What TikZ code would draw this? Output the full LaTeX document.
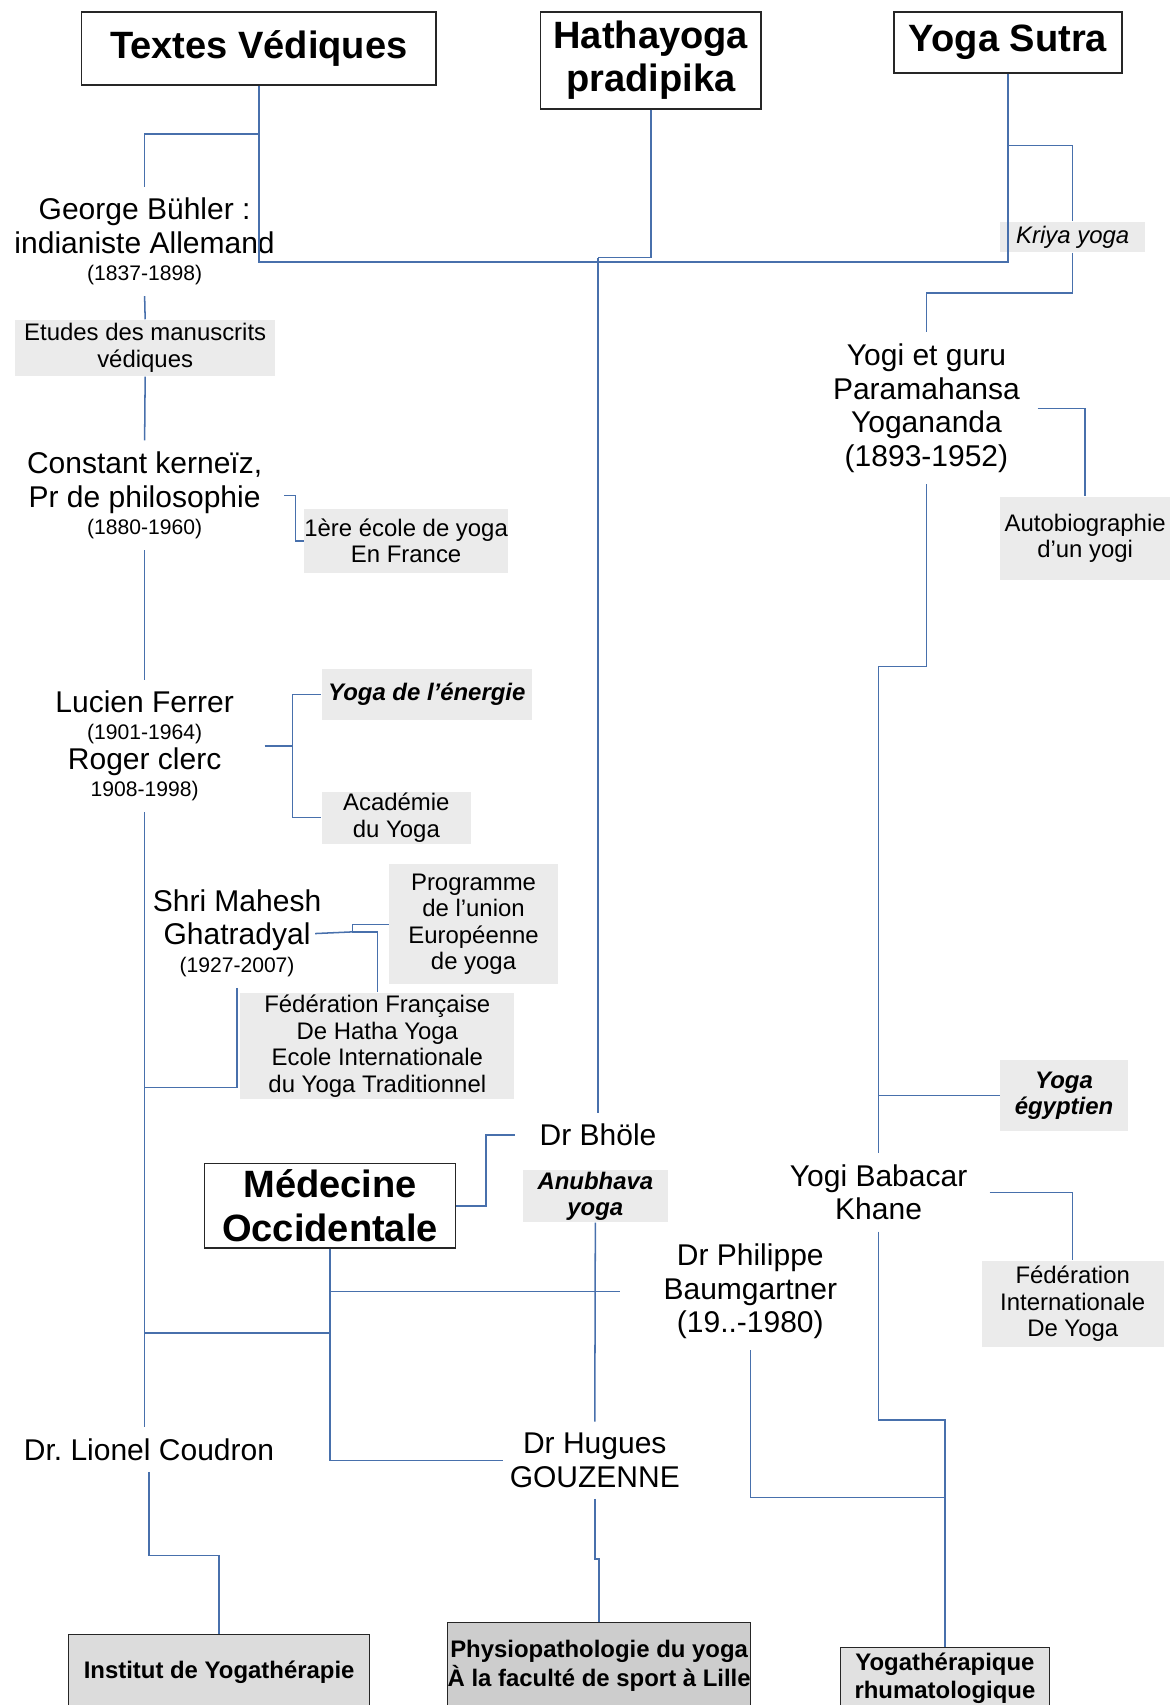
\documentclass[tikz,border=0pt]{standalone}
\usepackage{fontspec}
\setmainfont{Liberation Sans}
\usepackage{tikz}
\definecolor{lnkb}{RGB}{72,112,172}
\definecolor{resa}{RGB}{220,220,220}
\definecolor{resb}{RGB}{205,205,205}
\definecolor{resc}{RGB}{225,225,225}
\newcommand{\cnote}{black!8}
\newcommand{\ftitle}{\fontsize{17.5}{20}\selectfont\bfseries}
\newcommand{\fname}{\fontsize{13.8}{15.5}\selectfont}
\newcommand{\fnote}{\fontsize{11}{12.2}\selectfont}
\newcommand{\fres}{\fontsize{11}{13}\selectfont\bfseries}
\newcommand{\yrs}{\fontsize{9.7}{11}\selectfont}
\tikzset{
	every node/.style = { align = center },
	src/.style = { draw=black!85, line width=0.8pt, fill=white, font=\ftitle, inner sep=0pt },
	who/.style = { font=\fname, inner xsep=3pt, inner ysep=5pt },
	nte/.style = { fill=\cnote, font=\fnote, inner sep=0pt },
	res/.style = { draw=black!85, line width=0.7pt, font=\fres, inner sep=0pt },
	lnk/.style = { draw=lnkb, line width=0.7pt },
}

\begin{document}
\begin{tikzpicture}[x=0.5pt,y=-0.5pt]
\clip (0,0) rectangle (1080,1568);

\node (tv) [src,minimum width=163pt,minimum height=33.5pt] at (238,44.5)  {Textes Védiques};
\node (hp) [src,minimum width=101.5pt,minimum height=44.5pt] at (598.5,55.5) {Hathayoga\\pradipika};
\node (ys) [src,minimum width=105pt,minimum height=28pt]   at (927,39)    {Yoga Sutra};
\node (mo) [src,minimum width=115.5pt,minimum height=39pt] at (303.5,1109) {Médecine\\Occidentale};

\node (bu) [who] at (133,222)    {George Bühler :\\indianiste Allemand\\[-3pt]{\yrs (1837-1898)}};
\node (ck) [who] at (133,455.5)  {Constant kerneïz,\\Pr de philosophie\\[-3pt]{\yrs (1880-1960)}};
\node (lf) [who] at (133,686)    {Lucien Ferrer\\[-3pt]{\yrs (1901-1964)}\\[-2pt]Roger clerc\\[-3pt]{\yrs 1908-1998)}};
\node (sm) [who] at (218,858)    {Shri Mahesh\\Ghatradyal\\[-3pt]{\yrs (1927-2007)}};
\node (lc) [who] at (137,1333)   {Dr.\ Lionel Coudron};
\node (yg) [who] at (852,375.5)  {Yogi et guru\\Paramahansa\\Yogananda\\(1893-1952)};
\node (bk) [who] at (808,1096.5) {Yogi Babacar\\Khane};
\node (bh) [who] at (550,1044)   {Dr Bhöle};
\node (pb) [who] at (690,1187.5) {Dr Philippe\\Baumgartner\\(19..-1980)};
\node (hg) [who] at (547,1343)   {Dr Hugues\\GOUZENNE};

\node (em) [nte,minimum width=119.5pt,minimum height=26pt] at (133.5,320)  {Etudes des manuscrits\\védiques};
\node (ef) [nte,minimum width=89.5pt,minimum height=29.5pt] at (373.5,497.5) {1ère école de yoga\\En France};
\node (ye) [nte,minimum width=96.5pt,minimum height=23.5pt] at (392.5,638.5) {\bfseries\itshape Yoga de l'énergie};
\node (ac) [nte,minimum width=68.5pt,minimum height=24pt]   at (364.5,752)  {Académie\\du Yoga};
\node (pu) [nte,minimum width=77.5pt,minimum height=55pt]   at (435.5,850)  {Programme\\de l'union\\Européenne\\de yoga};
\node (ff) [nte,minimum width=126pt,minimum height=49pt]    at (347,962)    {Fédération Française\\De Hatha Yoga\\Ecole Internationale\\du Yoga Traditionnel};
\node (kr) [nte,minimum width=66.5pt,minimum height=14pt]   at (986.5,218)  {\itshape Kriya yoga};
\node (ab) [nte,minimum width=78pt,minimum height=38pt]     at (998,495)    {Autobiographie\\d'un yogi};
\node (eg) [nte,minimum width=58.5pt,minimum height=32.5pt] at (978.5,1007.5) {\bfseries\itshape Yoga\\\bfseries\itshape égyptien};
\node (ay) [nte,minimum width=66.5pt,minimum height=24pt]   at (547.5,1100) {\bfseries\itshape Anubhava\\\bfseries\itshape yoga};
\node (fi) [nte,minimum width=83.5pt,minimum height=39.5pt] at (986.5,1199) {Fédération\\Internationale\\De Yoga};

\node (iy) [res,fill=resa,minimum width=138.5pt,minimum height=34.5pt] at (201.5,1537.5) {Institut de Yogathérapie};
\node (pl) [res,fill=resb,minimum width=138pt,minimum height=40pt]     at (551,1532)     {Physiopathologie du yoga\\À la faculté de sport à Lille};
\node (yr) [res,fill=resc,minimum width=96pt,minimum height=28.5pt]    at (869,1543.5)   {Yogathérapique\\rhumatologique};

\coordinate (hub)  at (550,241);
\coordinate (hubh) at (550,237);
\coordinate (tvb)  at (238,123);
\coordinate (ysb)  at (927,134);
\coordinate (lfj)  at (269,686);
\coordinate (smj)  at (133,1000);
\coordinate (smk)  at (324,857);
\coordinate (lj)   at (133,1226);
\coordinate (bkj)  at (808,613);
\coordinate (yrj)  at (869,1306);
\coordinate (pbj)  at (869,1377);

\draw[lnk] (tv.south) |- (hub);
\draw[lnk] (ys.south) |- (hub);
\draw[lnk] (hp.south) |- (hubh);
\draw[lnk] (hubh) -- (bh.north);

\draw[lnk] (tvb) -| (bu.north);
\draw[lnk] (bu.south) -- (em.north);
\draw[lnk] (em.south) -- (ck.north);
\draw[lnk] (ck.south) -- (lf.north);
\draw[lnk] (lf.south) -- (smj);
\draw[lnk] (sm.south) |- (smj);
\draw[lnk] (smj) -- (smj |- lc.north);
\draw[lnk] (lc.south) -- ++(0,77) -| (iy.north);

\draw[lnk,shorten <=7pt] (ck.east) -- ++(24,0) |- (ef.west);
\draw[lnk,shorten <=11pt] (lf.east) -- (lfj);
\draw[lnk] (lfj) |- (ye.west);
\draw[lnk] (lfj) |- (ac.west);
\draw[lnk,shorten <=-6pt] (sm.east) -- (smk);
\draw[lnk] (smk) |- (pu.west);
\draw[lnk] (smk) -| (ff.north);

\draw[lnk] (ysb) -| (kr.north);
\draw[lnk] (kr.south) -- ++(0,37) -| (yg.north);
\draw[lnk,shorten <=5pt] (yg.east) -| (ab.north);
\draw[lnk] (yg.south) |- (bkj) -- (bk.north);
\draw[lnk] (bk.north |- eg.west) -- (eg.west);
\draw[lnk,shorten <=7pt] (bk.east) -| (fi.north);
\draw[lnk] (bk.south) |- (yrj) -- (yr.north);
\draw[lnk] (pb.south) |- (pbj);

\draw[lnk,shorten >=8pt] (mo.east) -- ++(27,0) |- (bh.west);
\draw[lnk,shorten >=17pt] (mo.south) |- (pb.west);
\draw[lnk] (mo.south) |- (lj);
\draw[lnk] (mo.south) |- (hg.west);
\draw[lnk] (ay.south) -- (hg.north);
\draw[lnk] (hg.south) -- ++(0,55) -| (pl.north);

\end{tikzpicture}
\end{document}
